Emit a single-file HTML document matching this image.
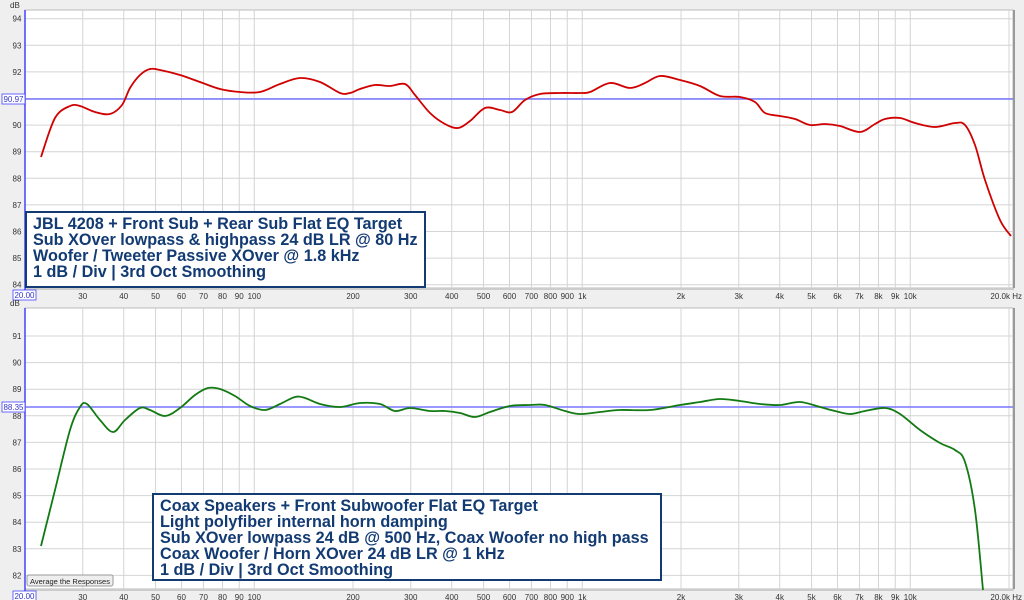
<!DOCTYPE html>
<html><head><meta charset="utf-8"><style>
html,body{margin:0;padding:0;background:#f0f0f0;}
svg{display:block;font-family:"Liberation Sans",Arial,sans-serif;}
.lg{font-weight:bold;font-size:16.2px;fill:#123a73;}
</style></head><body>
<svg id="s" width="1024" height="600" xmlns="http://www.w3.org/2000/svg">
<rect width="1024" height="600" fill="#efefef"/>
</svg>
<script>
(function(){
const s=document.getElementById('s');const NS='http://www.w3.org/2000/svg';
function el(t,a,txt){const e=document.createElementNS(NS,t);for(const k in a)e.setAttribute(k,a[k]);if(txt!==undefined)e.textContent=txt;s.appendChild(e);return e;}
const X=f=>25+328*Math.log10(f/20);
const freqs=[30,40,50,60,70,80,90,100,200,300,400,500,600,700,800,900,1000,2000,3000,4000,5000,6000,7000,8000,9000,10000,20000];
const lab={30:'30',40:'40',50:'50',60:'60',70:'70',80:'80',90:'90',100:'100',200:'200',300:'300',400:'400',500:'500',600:'600',700:'700',800:'800',900:'900',1000:'1k',2000:'2k',3000:'3k',4000:'4k',5000:'5k',6000:'6k',7000:'7k',8000:'8k',9000:'9k',10000:'10k'};
function panel(pt,pb,dbTop,yTop,dbs,avgY,avgTxt,pts,col){
  el('rect',{x:25,y:pt,width:988,height:pb-pt,fill:'#fff',stroke:'#bbb'});
  el('line',{x1:1014,y1:pt,x2:1014,y2:pb,stroke:'#999','stroke-width':2});
  el('line',{x1:25,y1:pb+1,x2:1014,y2:pb+1,stroke:'#ccc','stroke-width':2});
  freqs.forEach(f=>{const x=X(f);el('line',{x1:x,y1:pt,x2:x,y2:pb,stroke:'#d4d4d4'});
    if(lab[f])el('text',{x:x,y:pb+11,'font-size':8,fill:'#333','text-anchor':'middle'},lab[f]);});
  el('text',{x:1022,y:pb+11,'font-size':8,fill:'#333','text-anchor':'end'},'20.0k Hz');
  dbs.forEach(d=>{const y=yTop+(dbTop-d)*26.6;el('line',{x1:25,y1:y,x2:1013,y2:y,stroke:'#d4d4d4'});
    el('text',{x:17,y:y+3,'font-size':8,fill:'#333','text-anchor':'middle'},d);});
  el('text',{x:10,y:pt-2,'font-size':8,fill:'#333'},'dB');
  el('line',{x1:25,y1:pt,x2:25,y2:pb+6,stroke:'#4444ff','stroke-width':1.5});
  el('line',{x1:25,y1:avgY,x2:1013,y2:avgY,stroke:'#7777ff','stroke-width':1.5});
  el('rect',{x:2,y:avgY-5,width:23,height:10,fill:'#fff',stroke:'#4444ff','stroke-width':0.8});
  el('text',{x:13.5,y:avgY+3,'font-size':8,fill:'#3333cc','text-anchor':'middle'},avgTxt);
  el('rect',{x:13,y:pb+2,width:23,height:10,fill:'#fff',stroke:'#4444ff','stroke-width':0.8});
  el('text',{x:24.5,y:pb+10,'font-size':8,fill:'#3333cc','text-anchor':'middle'},'20.00');
  let d='M'+pts[0][0]+','+pts[0][1];
  for(let i=0;i<pts.length-1;i++){const p0=pts[i-1]||pts[i],p1=pts[i],p2=pts[i+1],p3=pts[i+2]||p2;
    d+=' C'+(p1[0]+(p2[0]-p0[0])/6)+','+(p1[1]+(p2[1]-p0[1])/6)+' '+(p2[0]-(p3[0]-p1[0])/6)+','+(p2[1]-(p3[1]-p1[1])/6)+' '+p2[0]+','+p2[1];}
  el('path',{d:d,fill:'none',stroke:col,'stroke-width':1.8});
}
const tp=[[41,157],[55,118],[70,106],[80,106],[95,112],[110,114],[122,105],[130,88],[140,75],[150,69],[160,70],[180,75],[200,82],[220,89],[240,92],[260,92],[280,84],[300,78],[320,82],[340,93],[350,93],[360,89],[375,85],[390,86],[405,84],[415,95],[430,113],[445,124],[458,128],[470,121],[485,108],[500,110],[512,112],[525,100],[540,94],[560,93],[580,93],[590,92],[610,83],[630,88],[645,83],[660,76],[680,80],[700,86],[720,96],[740,97],[755,102],[765,113],[780,116],[795,119],[810,125],[825,124],[840,126],[860,132],[875,124],[885,119],[900,118],[915,123],[935,127],[955,123],[965,125],[975,145],[985,180],[1000,220],[1011,236]];
const bp=[[41,546],[55,490],[70,430],[80,407],[87,404],[100,420],[113,432],[125,420],[140,408],[150,410],[165,416],[180,408],[195,395],[208,388],[220,389],[235,396],[250,406],[265,410],[280,404],[295,397],[305,398],[320,404],[340,407],[360,403],[380,404],[395,411],[410,408],[430,411],[445,411],[460,413],[475,417],[490,412],[510,406],[530,405],[545,405],[565,411],[580,414],[600,412],[620,410],[650,410],[680,405],[700,402],[720,399],[740,401],[760,404],[780,405],[800,402],[820,407],[835,411],[850,414],[865,411],[885,408],[900,414],[920,430],[940,443],[955,450],[965,462],[975,510],[983,590]];
panel(10,288,94,18.7,[84,85,86,87,88,89,90,91,92,93,94],99,'90.97',tp,'#d00000');
panel(308,589,91,336,[82,83,84,85,86,87,88,89,90,91],407,'88.35',bp,'#137a13');
function legend(x,y,w,h,lines){el('rect',{x:x,y:y,width:w,height:h,fill:'#fff',stroke:'#123a73','stroke-width':2});
  lines.forEach((t,i)=>el('text',{x:x+7,y:y+17+i*16,class:'lg'},t));}
legend(26,212,399,75,['JBL 4208 + Front Sub + Rear Sub Flat EQ Target','Sub XOver lowpass & highpass 24 dB LR @ 80 Hz','Woofer / Tweeter Passive XOver @ 1.8 kHz','1 dB / Div | 3rd Oct Smoothing']);
legend(153,494,508,86,['Coax Speakers + Front Subwoofer Flat EQ Target','Light polyfiber internal horn damping','Sub XOver lowpass 24 dB @ 500 Hz, Coax Woofer no high pass','Coax Woofer / Horn XOver 24 dB LR @ 1 kHz','1 dB / Div | 3rd Oct Smoothing']);
el('rect',{x:27,y:575,width:86,height:11,rx:2,fill:'#eee',stroke:'#999'});
el('text',{x:70,y:584,'font-size':7.5,fill:'#222','text-anchor':'middle'},'Average the Responses');
})();
</script>
</body></html>
